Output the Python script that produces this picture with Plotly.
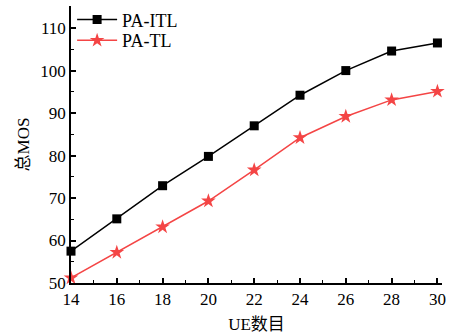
import plotly.graph_objects as go

ue = [14, 16, 18, 20, 22, 24, 26, 28, 30]
pa_itl = [57.5, 65.1, 72.9, 79.8, 87.0, 94.2, 100.0, 104.6, 106.5]
pa_tl = [51.2, 57.2, 63.2, 69.3, 76.6, 84.2, 89.2, 93.1, 95.1]

FONT = "Liberation Serif, Times New Roman, Noto Sans CJK SC, serif"

fig = go.Figure()
fig.add_trace(go.Scatter(x=ue, y=pa_itl, name="PA-ITL", mode="lines+markers",
                         line=dict(color="#000000", width=1.5),
                         marker=dict(symbol="square", size=9, color="#000000"),
                         cliponaxis=False, legend="legend"))
fig.add_trace(go.Scatter(x=ue, y=pa_tl, name="PA-TL", mode="lines+markers",
                         line=dict(color="#f44545", width=1.5),
                         marker=dict(symbol="star", size=11, color="#f44545"),
                         cliponaxis=False, legend="legend2"))

axis_common = dict(showline=True, linecolor="black", linewidth=1.5, ticks="inside",
                   ticklen=5, tickwidth=1.5, tickcolor="black", showgrid=False,
                   zeroline=False, tickfont=dict(family=FONT, size=17, color="black"),
                   mirror=False, automargin=False)

leg_common = dict(xanchor="left", yanchor="middle", bgcolor="rgba(0,0,0,0)",
                  font=dict(family=FONT, size=18), itemwidth=40)

fig.update_layout(
    width=450, height=335,
    margin=dict(l=71, r=8, t=1, b=52),
    paper_bgcolor="white", plot_bgcolor="white",
    font=dict(family=FONT, size=16, color="black"),
    xaxis=dict(range=[14, 30.2], tickvals=ue, title=dict(text="UE数目", standoff=10,
               font=dict(family=FONT, size=17)),
               minor=dict(ticks="inside", ticklen=3, dtick=1, tick0=14, tickcolor="black", tickwidth=1.2),
               **axis_common),
    yaxis=dict(range=[50, 115.2], tickvals=[50, 60, 70, 80, 90, 100, 110],
               title=dict(text="总MOS", standoff=6, font=dict(family=FONT, size=17)),
               minor=dict(ticks="inside", ticklen=3, dtick=5, tick0=50, tickcolor="black", tickwidth=1.2),
               **axis_common),
    legend=dict(x=0.003, y=0.95, **leg_common),
    legend2=dict(x=0.003, y=0.875, **leg_common),
    showlegend=True,
)

fig.write_html("out.html", config={"displayModeBar": False},
               post_script="document.body.style.margin='0';")
